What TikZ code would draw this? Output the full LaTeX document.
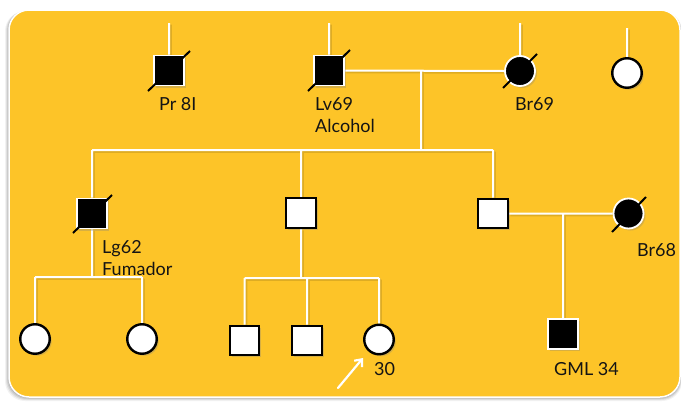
\documentclass[tikz,border=0pt]{standalone}
\usepackage{fontspec}
\setmainfont{Lato}
\usetikzlibrary{arrows.meta,shadows}
\definecolor{panel}{RGB}{253,196,40}
\definecolor{ink}{RGB}{20,20,20}
\pgfdeclarelayer{bg}
\pgfdeclarelayer{back}
\pgfsetlayers{bg,back,main}
\tikzset{
  sq/.style={rectangle,minimum size=29.5pt,inner sep=0pt,line width=2.4pt,draw=black,fill=white,
    drop shadow={shadow xshift=2pt,shadow yshift=-2pt,opacity=0.3}},
  sqf/.style={rectangle,minimum size=30pt,inner sep=0pt,line width=1.8pt,draw=white,fill=black,
    drop shadow={shadow xshift=2pt,shadow yshift=-2pt,opacity=0.3}},
  ci/.style={circle,minimum size=29.5pt,inner sep=0pt,line width=2.4pt,draw=black,fill=white,
    drop shadow={shadow xshift=2pt,shadow yshift=-2pt,opacity=0.3}},
  cif/.style={circle,minimum size=30pt,inner sep=0pt,line width=1.8pt,draw=white,fill=black,
    drop shadow={shadow xshift=2pt,shadow yshift=-2pt,opacity=0.3}},
  link/.style={draw=white,line width=2pt},
  linkshadow/.style={draw=black,opacity=0.12,line width=2.5pt},
  slash/.style={draw=black,line width=2pt},
  lbl/.style={anchor=base west,inner sep=0pt,text=ink,font=\fontsize{18}{21}\selectfont},
}
\begin{document}
\begin{tikzpicture}[x=1pt,y=-1pt]
\useasboundingbox (0,0) rectangle (681,402);
\begin{pgfonlayer}{bg}
\fill[white] (0,0) rectangle (681,402);
\foreach \i/\o in {4/0.05,3/0.07,2/0.09,1/0.12}{
  \fill[black,opacity=\o,rounded corners=20] (9-\i,10+0.3*\i) rectangle (680+0.5*\i,397+\i);
}
\draw[white,line width=1.5pt,fill=panel,rounded corners=20] (9,10) rectangle (680,397);
\end{pgfonlayer}

% coordinates
\coordinate (tpr) at (169,23);
\coordinate (tlv) at (329,23);
\coordinate (tbr) at (520,23);
\coordinate (trc) at (627,28);
\coordinate (m1) at (421,71);
\coordinate (sib) at (421,150);
\coordinate (sibL) at (92,150);
\coordinate (sibM) at (301,150);
\coordinate (sibR) at (493,150);
\coordinate (lgJ) at (92,277);
\coordinate (lgL) at (35,277);
\coordinate (lgR) at (142,277);
\coordinate (msJ) at (301,278);
\coordinate (msL) at (244.5,278);
\coordinate (msM) at (307,278);
\coordinate (msR) at (379,278);
\coordinate (m2) at (563,213.5);

% nodes
\node[sqf] (pr) at (169,70.5) {};
\node[sqf] (lv) at (329,70.5) {};
\node[cif] (brA) at (520,71) {};
\node[ci] (rc) at (627,73) {};
\node[sqf] (lg) at (92,213.5) {};
\node[sq] (ms) at (301,213) {};
\node[sq] (rs) at (493,213.5) {};
\node[cif] (brB) at (628.5,213.5) {};
\node[ci] (c1) at (35,339) {};
\node[ci] (c2) at (142,339) {};
\node[sq] (s1) at (244.5,340.5) {};
\node[sq] (s2) at (307,340.5) {};
\node[ci] (c3) at (379,339.5) {};
\node[sqf] (gml) at (563,334) {};

% connectors
\begin{pgfonlayer}{back}
\path[linkshadow,transform canvas={xshift=1.5pt,yshift=-1.5pt}]
  (tpr) -- (pr.north) (tlv) -- (lv.north) (tbr) -- (brA.north) (trc) -- (rc.north)
  (lv.east) -- (brA.west) (m1) -- (sib) (sibL) -- (sibR)
  (sibL) -- (lg.north) (sibM) -- (ms.north) (sibR) -- (rs.north)
  (lg.south) -- (lgJ) (lgL) -- (lgR) (lgL) -- (c1.north) (lgR) -- (c2.north)
  (ms.south) -- (msJ) (msL) -- (msR) (msL) -- (s1.north) (msM) -- (s2.north) (msR) -- (c3.north)
  (rs.east) -- (brB.west) (m2) -- (gml.north);
\path[link]
  (tpr) -- (pr.north) (tlv) -- (lv.north) (tbr) -- (brA.north) (trc) -- (rc.north)
  (lv.east) -- (brA.west) (m1) -- (sib) (sibL) -- (sibR)
  (sibL) -- (lg.north) (sibM) -- (ms.north) (sibR) -- (rs.north)
  (lg.south) -- (lgJ) (lgL) -- (lgR) (lgL) -- (c1.north) (lgR) -- (c2.north)
  (ms.south) -- (msJ) (msL) -- (msR) (msL) -- (s1.north) (msM) -- (s2.north) (msR) -- (c3.north)
  (rs.east) -- (brB.west) (m2) -- (gml.north);
\end{pgfonlayer}

% deceased slashes
\draw[slash] ([shift={(-21,20.5)}]pr.center) -- ([shift={(21,-19.5)}]pr.center);
\draw[slash] ([shift={(-21,20.5)}]lv.center) -- ([shift={(21,-20.5)}]lv.center);
\draw[slash] ([shift={(-17,17)}]brA.center) -- ([shift={(17,-17)}]brA.center);
\draw[slash] ([shift={(-19,19.5)}]lg.center) -- ([shift={(20,-18.5)}]lg.center);
\draw[slash] ([shift={(-16.5,18.5)}]brB.center) -- ([shift={(17.5,-16.5)}]brB.center);

% labels
\node[lbl] (tPr) at (159,110) {Pr 8I};
\node[lbl] (tLv) at (315,110) {Lv69};
\node[lbl] (tAl) at (315,132) {Alcohol};
\node[lbl] (tBrA) at (515,110) {Br69};
\node[lbl] (tLg) at (102,253) {Lg62};
\node[lbl] (tFu) at (102,275) {Fumador};
\node[lbl] (tBrB) at (637,256) {Br68};
\node[lbl] (t30) at (374,375) {30};
\node[lbl] (tGML) at (554,375) {GML 34};

% proband arrow
\coordinate (arT) at (338,388);
\coordinate (arH) at (363,358);
\draw[white,line width=2.2pt,line cap=round,-{Straight Barb[length=6pt,width=10pt,line width=2.2pt]}] (arT) -- (arH);
\end{tikzpicture}
\end{document}
